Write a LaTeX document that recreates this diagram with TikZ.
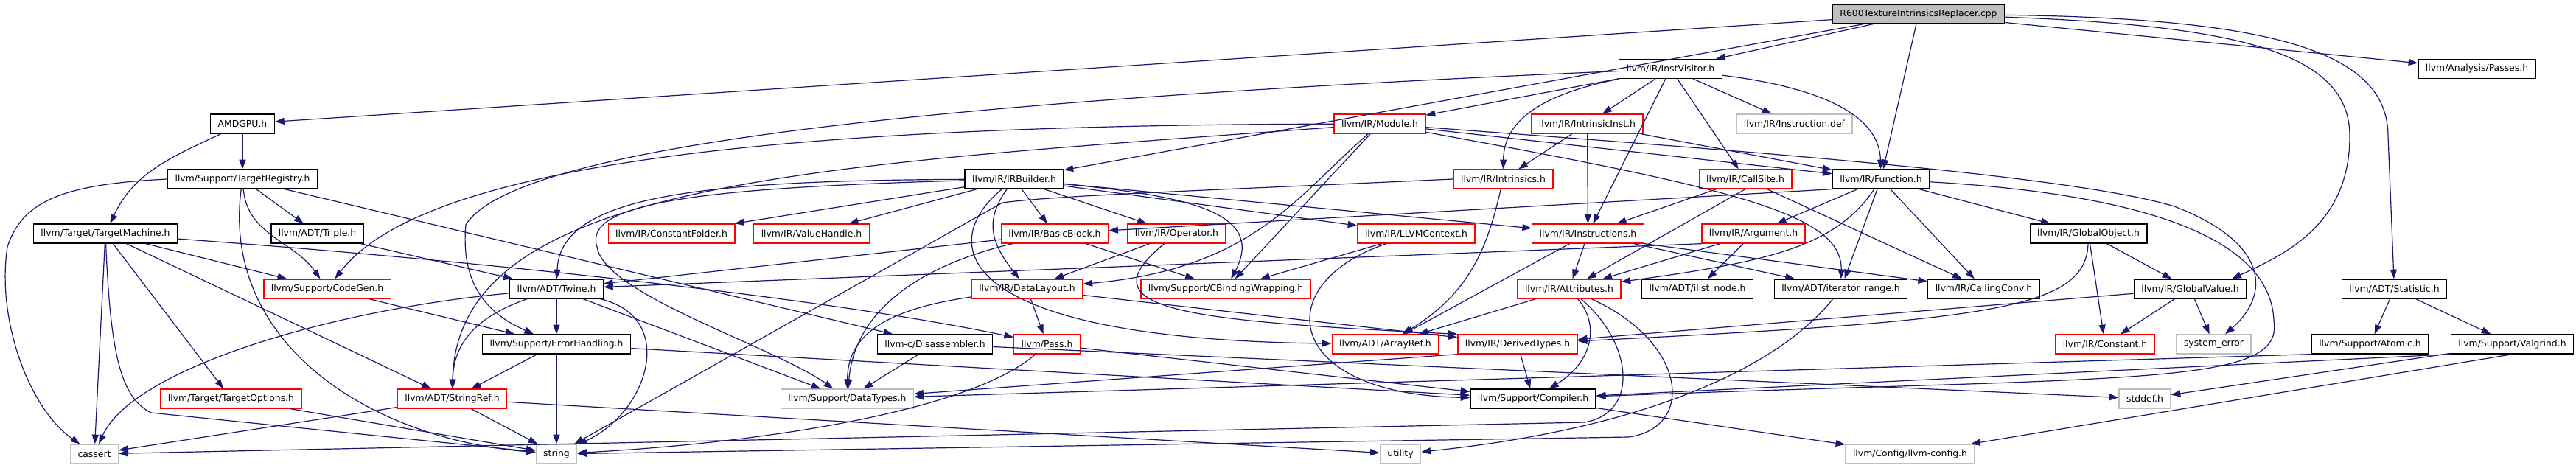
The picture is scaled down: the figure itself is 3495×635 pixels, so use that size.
\documentclass[tikz,border=0pt]{standalone}
\usepackage{fontspec}
\setmainfont{DejaVu Sans}
\usetikzlibrary{arrows.meta,calc}
\definecolor{depblue}{HTML}{191970}
\definecolor{sysgray}{HTML}{BFBFBF}
\definecolor{truncred}{HTML}{FF0000}

\begin{document}
\begin{tikzpicture}[
  x=0.75pt, y=0.75pt,
  every node/.style={font=\fontsize{9.3}{11}\selectfont, inner xsep=7.5pt,
    inner ysep=0pt, minimum height=19.5pt, line width=1pt, fill=white},
  hdr/.style={draw=black},
  trunc/.style={draw=truncred},
  sys/.style={draw=sysgray},
  src/.style={draw=black, fill=sysgray},
  dep/.style={draw=depblue, line width=0.9pt, -{Triangle[length=9.5pt,width=6.8pt]}}
  ]

\path[use as bounding box, fill=white] (0,0) rectangle (3495,635);

\node[src] (root) at (2603,616) {R600TextureIntrinsicsReplacer.cpp};

\node[hdr] (instvisitor) at (2266.5,541.5) {llvm/IR/InstVisitor.h};
\node[hdr] (passes) at (3360.5,541.5) {llvm/Analysis/Passes.h};

\node[hdr] (amdgpu) at (329,467) {AMDGPU.h};
\node[trunc] (module) at (1872,467) {llvm/IR/Module.h};
\node[trunc] (intrinsicinst) at (2153.5,467) {llvm/IR/IntrinsicInst.h};
\node[sys] (instrdef) at (2434.5,467) {llvm/IR/Instruction.def};

\node[hdr] (targetregistry) at (329,392) {llvm/Support/TargetRegistry.h};
\node[hdr] (irbuilder) at (1376,392) {llvm/IR/IRBuilder.h};
\node[trunc] (intrinsics) at (2039.5,392) {llvm/IR/Intrinsics.h};
\node[trunc] (callsite) at (2368,392) {llvm/IR/CallSite.h};
\node[hdr] (function) at (2552,392) {llvm/IR/Function.h};

\node[hdr] (targetmachine) at (143,318) {llvm/Target/TargetMachine.h};
\node[hdr] (triple) at (430.5,318) {llvm/ADT/Triple.h};
\node[trunc] (constantfolder) at (911,318) {llvm/IR/ConstantFolder.h};
\node[trunc] (valuehandle) at (1101,318) {llvm/IR/ValueHandle.h};
\node[trunc] (basicblock) at (1431,318) {llvm/IR/BasicBlock.h};
\node[trunc] (operator) at (1596.5,318) {llvm/IR/Operator.h};
\node[trunc] (llvmcontext) at (1921.5,318) {llvm/IR/LLVMContext.h};
\node[trunc] (instructions) at (2154.5,318) {llvm/IR/Instructions.h};
\node[trunc] (argument) at (2379,318) {llvm/IR/Argument.h};
\node[hdr] (globalobject) at (2833.5,318) {llvm/IR/GlobalObject.h};

\node[trunc] (codegen) at (444,243) {llvm/Support/CodeGen.h};
\node[hdr] (twine) at (755,243) {llvm/ADT/Twine.h};
\node[trunc] (datalayout) at (1393.5,243) {llvm/IR/DataLayout.h};
\node[trunc] (cbinding) at (1663,243) {llvm/Support/CBindingWrapping.h};
\node[trunc] (attributes) at (2129,243) {llvm/IR/Attributes.h};
\node[hdr] (ilistnode) at (2303,243) {llvm/ADT/ilist\_node.h};
\node[hdr] (iterrange) at (2497.5,243) {llvm/ADT/iterator\_range.h};
\node[hdr] (callingconv) at (2691.5,243) {llvm/IR/CallingConv.h};
\node[hdr] (globalvalue) at (2971.5,243) {llvm/IR/GlobalValue.h};
\node[hdr] (statistic) at (3248.5,243) {llvm/ADT/Statistic.h};

\node[hdr] (errorhandling) at (755,168) {llvm/Support/ErrorHandling.h};
\node[hdr] (disassembler) at (1268.5,168) {llvm-c/Disassembler.h};
\node[trunc] (pass) at (1420.5,168) {llvm/Pass.h};
\node[trunc] (arrayref) at (1879.5,168) {llvm/ADT/ArrayRef.h};
\node[trunc] (derivedtypes) at (2059,168) {llvm/IR/DerivedTypes.h};
\node[trunc] (constant) at (2856,168) {llvm/IR/Constant.h};
\node[sys] (systemerror) at (3003.5,168) {system\_error};
\node[hdr] (atomic) at (3215.5,168) {llvm/Support/Atomic.h};
\node[hdr] (valgrind) at (3408.5,168) {llvm/Support/Valgrind.h};

\node[trunc] (targetoptions) at (313.5,94) {llvm/Target/TargetOptions.h};
\node[trunc] (stringref) at (613.5,94) {llvm/ADT/StringRef.h};
\node[sys] (datatypes) at (1149.5,94) {llvm/Support/DataTypes.h};
\node[hdr] (compiler) at (2080,94) {llvm/Support/Compiler.h};
\node[sys] (stddef) at (2910,94) {stddef.h};

\node[sys] (cassert) at (128,19) {cassert};
\node[sys] (string) at (755,19) {string};
\node[sys] (utility) at (1900,19) {utility};
\node[sys] (llvmconfig) at (2591.5,19) {llvm/Config/llvm-config.h};

\foreach \a/\b in {root/amdgpu, root/instvisitor, root/irbuilder, root/function, root/passes,
    amdgpu/targetregistry, targetregistry/triple, targetregistry/disassembler, triple/twine,
    targetmachine/cassert, targetmachine/codegen, targetmachine/targetoptions, targetmachine/stringref,
    targetoptions/string, codegen/errorhandling, twine/errorhandling, twine/datatypes,
    errorhandling/stringref, errorhandling/string, errorhandling/compiler,
    stringref/cassert, stringref/string, stringref/utility,
    instvisitor/module, instvisitor/intrinsicinst, instvisitor/instructions,
    instvisitor/callsite, instvisitor/instrdef,
    module/function, module/cbinding,
    intrinsicinst/intrinsics, intrinsicinst/instructions, intrinsicinst/function,
    irbuilder/constantfolder, irbuilder/valuehandle, irbuilder/basicblock,
    irbuilder/operator, irbuilder/llvmcontext, irbuilder/instructions,
    callsite/instructions, callsite.south/attributes, callsite/callingconv,
    function/argument, function.south west/basicblock, function/callingconv,
    function/globalobject, function/iterrange,
    argument.south west/twine, argument/ilistnode, argument/attributes,
    instructions/attributes, instructions/arrayref, instructions.south east/callingconv,
    instructions/iterrange, llvmcontext/cbinding, basicblock/twine, basicblock/cbinding,
    operator/datalayout, datalayout/pass, datalayout/derivedtypes,
    disassembler/datatypes, disassembler/stddef, pass/compiler, attributes/arrayref,
    derivedtypes/compiler, derivedtypes.south west/datatypes,
    globalobject/globalvalue, globalobject/constant,
    globalvalue/constant, globalvalue/systemerror, globalvalue/derivedtypes,
    statistic/atomic, statistic/valgrind, atomic.south west/datatypes,
    valgrind.south west/compiler, valgrind/stddef, valgrind.south/llvmconfig,
    compiler/llvmconfig}
  \draw[dep] (\a) -- (\b);

\draw[dep] (root) .. controls (3050,600) and (3188,560) .. (3188,450)
  .. controls (3188,330) and (3100,290) .. ($(globalvalue.north east)+(-20,0)$);
\draw[dep] (root) .. controls (3100,610) and (3240,560) .. (3240,450) -- (statistic);
\draw[dep] (amdgpu) to[out=205,in=65] (targetmachine);
\draw[dep] (targetregistry.west) .. controls (80,385) and (30,360) .. (10,300)
  .. controls (-5,200) and (40,80) .. (cassert);
\draw[dep] (targetregistry) .. controls (300,170) and (500,40) .. (string);
\draw[dep] (targetregistry) to[out=-85,in=125] (codegen);
\draw[dep] (targetmachine) .. controls (150,150) and (165,95) .. (205,75) -- (string);
\draw[dep] (targetmachine) .. controls (600,285) and (1100,235) .. (pass);
\draw[dep] (twine) .. controls (450,215) and (180,135) .. (cassert);
\draw[dep] (twine) .. controls (920,205) and (880,75) .. (string);
\draw[dep] (twine) .. controls (630,200) and (615,155) .. (stringref);
\draw[dep] (instvisitor) .. controls (2080,505) and (2040,465) .. (intrinsics);
\draw[dep] (instvisitor) .. controls (2480,515) and (2550,475) .. (function);
\draw[dep] (instvisitor) .. controls (1300,500) and (700,440) .. (632,330)
  .. controls (625,250) and (660,210) .. (errorhandling);
\draw[dep] (module) .. controls (1100,465) and (580,420) .. (codegen);
\draw[dep] (module) .. controls (1100,410) and (620,390) .. (stringref);
\draw[dep] (module) .. controls (1760,370) and (1700,270) .. (datalayout);
\draw[dep] (module) .. controls (2300,435) and (2800,400) .. (2950,355)
  .. controls (3080,305) and (3080,235) .. (systemerror);
\draw[dep] (module) .. controls (2350,380) and (2500,345) .. (iterrange);
\draw[dep] (irbuilder) .. controls (950,390) and (760,370) .. (twine);
\draw[dep] (irbuilder) .. controls (950,380) and (790,360) .. (810,300)
  .. controls (820,235) and (1050,165) .. (datatypes);
\draw[dep] (irbuilder) .. controls (1335,335) and (1345,305) .. (datalayout);
\draw[dep] (irbuilder) .. controls (1270,305) and (1290,175) .. (arrayref);
\draw[dep] (irbuilder) .. controls (1600,370) and (1720,350) .. (cbinding);
\draw[dep] (intrinsics) .. controls (2020,310) and (2000,240) .. (arrayref);
\draw[dep] (intrinsics.west) .. controls (1600,375) and (1440,370) .. (1360,360) -- (string);
\draw[dep] (function) .. controls (2490,300) and (2400,280) .. (attributes);
\draw[dep] (function) .. controls (2850,375) and (3080,330) .. (3085,200)
  .. controls (3100,110) and (2900,125) .. (compiler);
\draw[dep] (iterrange) .. controls (2420,145) and (2250,55) .. (utility);
\draw[dep] (llvmcontext) .. controls (1720,250) and (1740,100) .. (compiler);
\draw[dep] (basicblock) .. controls (1250,275) and (1160,215) .. (datatypes);
\draw[dep] (operator) .. controls (1470,215) and (1600,200) .. (derivedtypes.north west);
\draw[dep] (datalayout) .. controls (1200,215) and (1150,180) .. (datatypes);
\draw[dep] (pass) .. controls (1320,80) and (1050,35) .. (string);
\draw[dep] (attributes) .. controls (2170,195) and (2162,145) .. (compiler);
\draw[dep] (attributes) .. controls (2215,170) and (2225,75) .. (2150,62) -- (cassert);
\draw[dep] (attributes) .. controls (2290,170) and (2300,55) .. (2210,42) -- (string);
\draw[dep] (globalobject) .. controls (2830,215) and (2700,200) .. (derivedtypes);

\end{tikzpicture}
\end{document}
